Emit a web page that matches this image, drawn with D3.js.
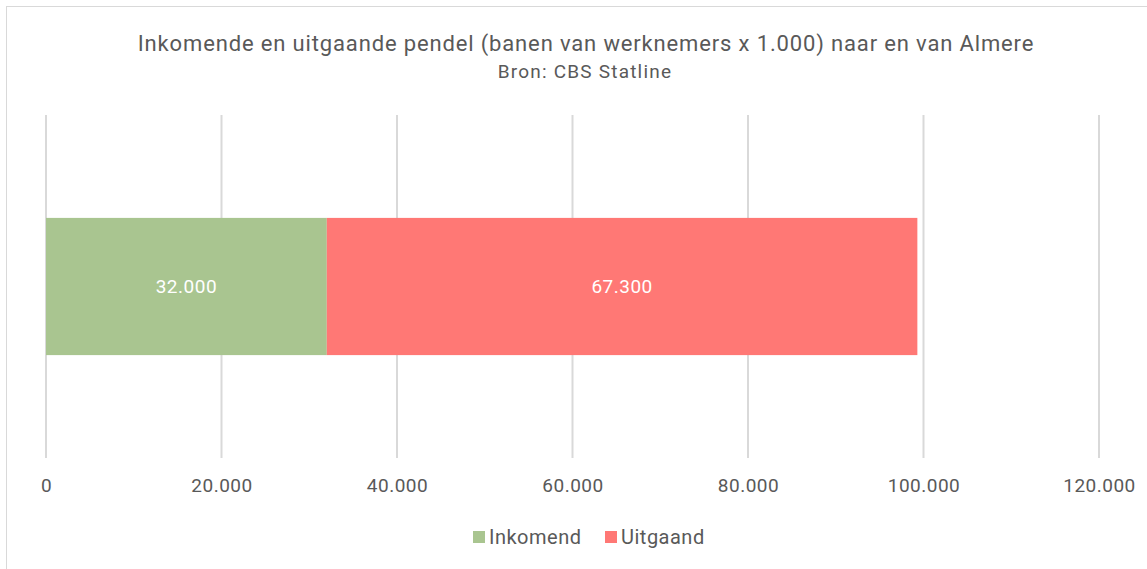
<!DOCTYPE html>
<html>
<head>
<meta charset="utf-8">
<script src="https://cdn.jsdelivr.net/npm/d3@7"></script>
<style>
  body { margin: 0; background: #fff; }
  text { font-family: Roboto, "Noto Sans", sans-serif; fill: #595959; }
</style>
</head>
<body>
<script>
// gegevens
var categorie = ["Almere"];
var reeksen = ["Inkomend", "Uitgaand"];
var waarden = [32000, 67300];
var kleuren = ["#a9c590", "#ff7875"];
var ticks = [0, 20000, 40000, 60000, 80000, 100000, 120000];

var width = 1147, height = 569;
var svg = d3.select("body").append("svg")
    .attr("width", width)
    .attr("height", height);

// rand
svg.append("rect")
    .attr("x", 6.5).attr("y", 6.5)
    .attr("width", width).attr("height", height)
    .attr("fill", "none")
    .attr("stroke", "#d9d9d9");

// titel
svg.append("text")
    .attr("x", 586).attr("y", 51)
    .attr("text-anchor", "middle")
    .style("font-size", "22px")
    .style("letter-spacing", "0.85px")
    .text("Inkomende en uitgaande pendel (banen van werknemers x 1.000) naar en van Almere");
svg.append("text")
    .attr("x", 585).attr("y", 78)
    .attr("text-anchor", "middle")
    .style("font-size", "19px")
    .style("letter-spacing", "1.2px")
    .text("Bron: CBS Statline");

var xscale = d3.scaleLinear()
    .domain([0, 120000])
    .range([46, 1099]);

var yscale = d3.scaleBand()
    .domain(categorie)
    .range([115, 458])
    .paddingInner(0.6)
    .paddingOuter(0.3);

var fmt = function (d) { return d3.format(",")(d).replace(/,/g, "."); };

// rasterlijnen
svg.append("g")
    .selectAll("line")
    .data(ticks)
    .enter()
    .append("line")
    .attr("x1", function (d) { return xscale(d); })
    .attr("x2", function (d) { return xscale(d); })
    .attr("y1", 115)
    .attr("y2", 458)
    .attr("stroke", "#d9d9d9")
    .attr("stroke-width", 2);

// as
var x_axis = d3.axisBottom(xscale)
    .tickValues(ticks)
    .tickSize(0)
    .tickPadding(21)
    .tickFormat(fmt);
var gx = svg.append("g")
    .attr("transform", "translate(0,458)")
    .call(x_axis);
gx.select(".domain").remove();
gx.selectAll("text")
    .style("font-size", "19px")
    .style("letter-spacing", "0.5px")
    .style("font-family", "Roboto, sans-serif")
    .attr("fill", "#595959");

// gestapelde balken
var start = 0;
var stukken = reeksen.map(function (r, i) {
    var s = { naam: r, x0: start, x1: start + waarden[i], kleur: kleuren[i], v: waarden[i] };
    start += waarden[i];
    return s;
});

var bh = yscale.bandwidth();
var y0 = yscale(categorie[0]);

svg.append("g")
    .selectAll("rect")
    .data(stukken)
    .enter()
    .append("rect")
    .attr("x", function (d) { return xscale(d.x0); })
    .attr("width", function (d) { return xscale(d.x1) - xscale(d.x0); })
    .attr("y", y0)
    .attr("height", bh)
    .attr("fill", function (d) { return d.kleur; });

svg.append("g")
    .selectAll("text")
    .data(stukken)
    .enter()
    .append("text")
    .attr("x", function (d) { return (xscale(d.x0) + xscale(d.x1)) / 2; })
    .attr("y", y0 + bh / 2)
    .attr("dy", "0.35em")
    .attr("text-anchor", "middle")
    .style("font-size", "19px")
    .style("letter-spacing", "0.5px")
    .style("fill", "#fff")
    .text(function (d) { return fmt(d.v); });

// legenda
var leg = svg.append("g");
var lx = [473, 605];
reeksen.forEach(function (r, i) {
    leg.append("rect")
        .attr("x", lx[i]).attr("y", 531)
        .attr("width", 12).attr("height", 12)
        .attr("fill", kleuren[i]);
    leg.append("text")
        .attr("x", lx[i] + 16).attr("y", 537)
        .attr("dy", "0.35em")
        .style("font-size", "20px")
        .style("letter-spacing", "0.5px")
        .text(r);
});
</script>
</body>
</html>
